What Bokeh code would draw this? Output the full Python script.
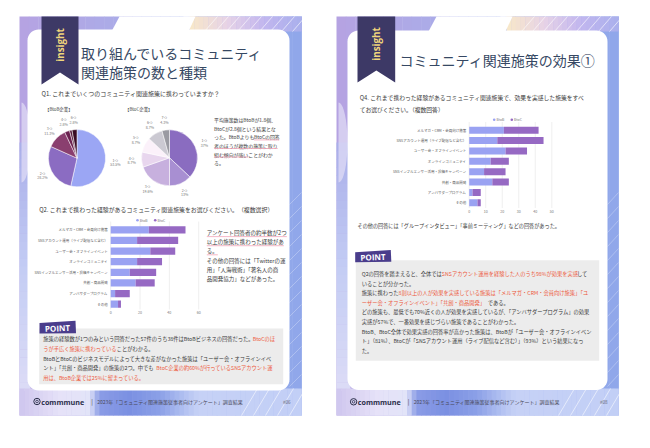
import numpy as np
from bokeh.plotting import figure
from bokeh.models import Range1d, LinearScale, ColumnDataSource
from bokeh.core.properties import value
from bokeh.embed import file_html
from bokeh.resources import INLINE

# ---------------- data ----------------
pie_b_labels = ["1つ", "2つ", "3つ", "4つ", "5つ", "6つ"]
pie_b_share = [53.5, 28.2, 11.3, 2.8, 1.4, 2.8]
pie_b_show = [True, True, True, True, False, True]
pie_c_labels = ["1つ", "2つ", "3つ", "4つ", "5つ", "6つ", "7つ"]
pie_c_share = [37.0, 13.0, 19.6, 8.7, 8.7, 8.7, 4.3]

categories = ["メルマガ・CRM・会員向け施策", "SNSアカウント運用（ライブ配信など含む）",
              "ユーザー会・オフラインイベント", "オンラインコミュニティ",
              "SNSインフルエンサー活用・投稿キャンペーン", "共創・商品開発",
              "アンバサダープログラム", "その他"]
q2_btob = [26, 18, 27, 18, 13, 17, 3, 5]
q2_btoc = [25, 28, 17, 17, 18, 13, 10, 2]
q2_ticks = [0, 20, 40, 60]
q4_btob = [21, 17, 22, 13, 9, 14, 2, 5]
q4_btoc = [21, 28, 13, 11, 13, 10, 5, 2]
q4_ticks = [0, 10, 20, 30, 40, 50]
series_names = ["BtoB", "BtoC"]

# ---------------- styles ----------------
FONT = "Noto Sans CJK JP"
BODY = "#3a3a3a"
RED = "#ec5a3c"
NAVY = "#3d3966"
C_B = "#9aa2f2"
C_C = "#9669c3"
PIE_B_COLORS = ["#9ba6f4", "#8b6cc2", "#8a3f6f", "#6b2150", "#55173b", "#3a0b24"]
PIE_C_COLORS = ["#8a6cc0", "#a88fd2", "#c7b0de", "#e8d6ee", "#fbf1fa", "#cbc9d2", "#9a9aa2"]

OFF = 8
W, H = 634, 432
p = figure(width=W, height=H, x_range=Range1d(OFF, OFF + W), y_range=Range1d(448 - OFF - H, 448 - OFF),
           output_backend="svg", toolbar_location=None, min_border=0,
           x_axis_type=None, y_axis_type=None)
p.outline_line_color = None
p.background_fill_color = "white"
p.border_fill_color = "white"


def Y(y):
    return 448 - y


def hexrgb(c):
    c = c.lstrip("#")
    return np.array([int(c[i:i + 2], 16) for i in (0, 2, 4)], float)


def mix(c0, c1, t):
    a, b = hexrgb(c0), hexrgb(c1)
    m = a + (b - a) * t
    return "#%02x%02x%02x" % tuple(int(round(v)) for v in m)


def grad_cols(stops, n):
    cols = []
    for i in range(n):
        t = (i + 0.5) / n * (len(stops) - 1)
        k = min(int(t), len(stops) - 2)
        cols.append(mix(stops[k], stops[k + 1], t - k))
    return cols


def hgrad(x0, x1, y0, y1, stops, n=30):
    xs = np.linspace(x0, x1, n + 1)
    p.quad(left=xs[:-1], right=xs[1:] + 0.4, top=Y(y0), bottom=Y(y1), fill_color=grad_cols(stops, n),
           line_color=None)


def hgrad_pos(x0, x1, y0, y1, stops, n=60):
    # stops: list of (relative x, colour)
    xs = np.linspace(x0, x1, n + 1)
    cols = []
    for i in range(n):
        xm = (xs[i] + xs[i + 1]) / 2 - x0
        for k in range(len(stops) - 1):
            if stops[k][0] <= xm <= stops[k + 1][0] or k == len(stops) - 2:
                a, b = stops[k], stops[k + 1]
                t = min(max((xm - a[0]) / (b[0] - a[0]), 0), 1)
                cols.append(mix(a[1], b[1], t))
                break
    p.quad(left=xs[:-1], right=xs[1:] + 0.4, top=Y(y0), bottom=Y(y1), fill_color=cols, line_color=None)


def vgrad(x0, x1, y0, y1, stops, n=30):
    ys = np.linspace(y0, y1, n + 1)
    p.quad(left=x0, right=x1, top=[Y(v) for v in ys[:-1]], bottom=[Y(v) - 0.4 for v in ys[1:]],
           fill_color=grad_cols(stops, n), line_color=None)


def poly(pts, color, alpha=1.0):
    p.patch([a for a, b in pts], [Y(b) for a, b in pts], fill_color=color, line_color=None, fill_alpha=alpha)


def rrect(x0, y0, x1, y1, r, color):
    pts = []
    for cx, cy, a0 in [(x1 - r, y0 + r, -90), (x1 - r, y1 - r, 0), (x0 + r, y1 - r, 90), (x0 + r, y0 + r, 180)]:
        for a in np.linspace(a0, a0 + 90, 10):
            pts.append((cx + r * np.cos(np.radians(a)), cy + r * np.sin(np.radians(a))))
    poly(pts, color)


CW = {' ': 0.26, '.': 0.28, ',': 0.28, '%': 0.86, 'B': 0.62, 't': 0.37, 'o': 0.56, 'C': 0.6,
      'S': 0.55, 'N': 0.68, 'R': 0.6, 'M': 0.78, 'Q': 0.7, 'T': 0.55, 'w': 0.78, 'i': 0.25, 'e': 0.53, 'r': 0.36}


def twidth(s, fs):
    w = 0.0
    for ch in s:
        if ord(ch) < 128:
            w += CW.get(ch, 0.55)
        else:
            w += 1.0
    return w * fs


def txt(x, y, s, size, color=BODY, align="left", bold=False, angle=0.0, font=FONT):
    p.text(x=[x], y=[Y(y)], text=[s], text_font=value(font), text_font_size=f"{size}px",
           text_color=color, text_align=align, text_baseline="middle",
           text_font_style="bold" if bold else "normal", angle=angle)


def runs(x, y, parts, size, underline=None):
    cx = x
    for s, col in parts:
        txt(cx, y, s, size, col)
        w = twidth(s, size)
        if underline is not None and s in underline:
            p.segment(x0=cx, y0=Y(y + size * 0.62), x1=cx + w, y1=Y(y + size * 0.62),
                      line_color="#f3a4b8", line_width=0.8)
        cx += w


# ---------------- page backgrounds ----------------
def page(px0, px1, card_x0, card_x1):
    top, bot = 24, 423
    hgrad(px0, px1, top, bot, ["#b6a3e2", "#a6afea", "#8fa7ea"])
    vgrad(px0, card_x0 + 3, 150, 398, ["#a9aee9", "#c3ccf4", "#dcdcf6"])
    # soft curve on left strip
    th = np.linspace(-np.pi / 2, np.pi / 2, 20)
    poly([(px0 + 2 + 9 * np.cos(t), 150 + 40 * np.sin(t)) for t in th], "#e3def7", 0.7)
    poly([(px0 + 100, top), (px0 + 175, top), (px0 + 168, 39), (px0 + 92, 39)], "#ffffff")
    hgrad(px0 + 170, px1, top, 39, ["#f8e8c8", "#e7d3e6", "#c2b6ef", "#a9b0ec"], n=24)
    poly([(px0 + 164, top), (px0 + 176, top), (px0 + 169, 39), (px0 + 156, 39)], "#ffffff")
    xs = np.arange(px0 + 185, px1, 11)
    p.segment(x0=xs, y0=Y(39), x1=xs + 13, y1=Y(top), line_color="white", line_alpha=0.75, line_width=0.8)
    # bottom band
    hgrad_pos(px0, px1, 396, bot, [(0, "#cfc6ee"), (40, "#e6e2f8"), (70, "#e2e4f8"), (80, "#8a9ce6"),
                                   (110, "#7b90e2"), (140, "#8ba0e7"), (178, "#c6d1f6"), (282, "#c2cff6")])
    xs = np.arange(px0 + 222, px1 - 2, 12)
    p.segment(x0=xs, y0=Y(bot), x1=xs + 16, y1=Y(396), line_color="white", line_alpha=0.7, line_width=0.8)
    ys = np.arange(200, 390, 14)
    p.segment(x0=card_x1, y0=[Y(v + 12) for v in ys], x1=px1, y1=[Y(v) for v in ys],
              line_color="white", line_alpha=0.35, line_width=0.8)


page(27, 309, 35, 297)
page(344, 626, 355, 615)

rrect(35, 37, 297, 398, 11, "white")
rrect(355, 38, 615, 397.5, 11, "white")


# ---------------- ribbon ----------------
def ribbon(x0, x1, y0, y1, notch, cx, cy):
    poly([(x0, y0), (x1, y0), (x1, y1), ((x0 + x1) / 2, notch), (x0, y1)], NAVY)
    txt(cx, cy, "insight", 9.8, "#f0d67c", align="center", bold=True, angle=np.pi / 2, font="Open Sans")


ribbon(49, 86, 24, 92, 80, 67.5, 52.5)
ribbon(365, 402.7, 24, 90, 78, 384, 51.5)

# ---------------- titles ----------------
TITLE = "#364863"
txt(88.5, 60, "取り組んでいるコミュニティ", 14, TITLE)
txt(88.5, 79, "関連施策の数と種類", 14, TITLE)
txt(407, 67, "コミュニティ関連施策の効果①", 14, TITLE)

txt(49, 100.5, "Q1. これまでいくつのコミュニティ関連施策に携わっていますか？", 6.0)
txt(52.5, 116.5, "【BtoB企業】", 4.4)
txt(132.5, 116.5, "【BtoC企業】", 4.4)


# ---------------- pies ----------------
def pie(cx, cy, r, shares, labels, show, colors):
    sh = np.array(shares) / sum(shares)
    cum = np.concatenate([[0], np.cumsum(sh)])
    start = np.pi / 2 - cum[1:] * 2 * np.pi
    end = np.pi / 2 - cum[:-1] * 2 * np.pi
    src = ColumnDataSource(dict(start=start, end=end, color=colors[:len(sh)]))
    p.wedge(x=cx, y=Y(cy), radius=r, start_angle="start", end_angle="end", fill_color="color",
            line_color="white", line_width=0.5, source=src)
    mid = (cum[:-1] + cum[1:]) / 2 * 2 * np.pi
    rl = r + 10
    for i in range(len(sh)):
        if not show[i]:
            continue
        lx = cx + rl * np.sin(mid[i])
        ly = cy - rl * np.cos(mid[i])
        pct = f"{shares[i]:g}%"
        txt(lx, ly - 2.3, labels[i], 3.6, "#777777", align="center")
        txt(lx, ly + 2.3, pct, 3.6, "#777777", align="center")


pie(84.5, 165.7, 28.6, pie_b_share, pie_b_labels, pie_b_show, PIE_B_COLORS)
pie(177, 165.3, 28, pie_c_share, pie_c_labels, [True] * 7, PIE_C_COLORS)

ul1 = {"BtoCの回答", "者のほうが複数の施策に取り", "組む傾向が強い"}
side1 = [[("平均施策数はBtoBが1.8個、", BODY)],
         [("BtoCが2.8個という結果とな", BODY)],
         [("った。BtoBよりも", BODY), ("BtoCの回答", BODY)],
         [("者のほうが複数の施策に取り", BODY)],
         [("組む傾向が強い", BODY), ("ことがわか", BODY)],
         [("る。", BODY)]]
for i, parts in enumerate(side1):
    runs(221.5, 127.3 + i * 8.55, parts, 4.9, ul1)

txt(46.7, 216.7, "Q2. これまで携わった経験があるコミュニティ関連施策をお選びください。（複数選択）", 5.9)

ul2 = {"アンケート回答者の約半数が2つ", "以上の施策に携わった経験があ", "る。"}
side2 = [[("アンケート回答者の約半数が2つ", BODY)],
         [("以上の施策に携わった経験があ", BODY)],
         [("る。", BODY)],
         [("その他の回答には「Twitterの運", BODY)],
         [("用」「人海戦術」「著名人の商", BODY)],
         [("品開発協力」などがあった。", BODY)]]
for i, parts in enumerate(side2):
    runs(214.3, 240.7 + i * 9.1, parts, 5.5, ul2 if i < 3 else None)


# ---------------- bar charts ----------------
def bar_chart(btob, btoc, xmax, ticks, x0, x1, ytop, ybot, ylab, legx, legy):
    n = len(categories)
    sub = p.subplot(x_source=Range1d(0, xmax), x_target=Range1d(x0, x1),
                    y_source=Range1d(n - 0.5, -0.5), y_target=Range1d(Y(ybot), Y(ytop)),
                    x_scale=LinearScale(), y_scale=LinearScale())
    ax = p.subplot(x_source=Range1d(0, xmax), x_target=Range1d(x0, x1),
                   y_source=Range1d(0, 448), y_target=Range1d(0, 448),
                   x_scale=LinearScale(), y_scale=LinearScale())
    ax.segment(x0=ticks, x1=ticks, y0=Y(ybot), y1=Y(ytop - 3), line_color="#e4e4e4", line_width=0.6)
    ax.text(x=ticks, y=Y(ylab), text=[str(t) for t in ticks], text_font=value(FONT), text_font_size="3.6px",
            text_color="#777777", text_align="center", text_baseline="middle")
    tot = [a + b for a, b in zip(btob, btoc)]
    src = ColumnDataSource(dict(idx=list(range(n)), cat=categories, b=btob, c=btoc, tot=tot))
    sub.hbar(y="idx", left=0, right="b", height=0.68, fill_color=C_B, line_color=None, source=src)
    sub.hbar(y="idx", left="b", right="tot", height=0.68, fill_color=C_C, line_color=None, source=src)
    sub.text(x=0, y="idx", text="cat", x_offset=-3, text_font=value(FONT), text_font_size="3.5px",
             text_color="#555555", text_align="right", text_baseline="middle", source=src)
    for k, (nm, col) in enumerate(zip(series_names, [C_B, C_C])):
        lx = legx[k]
        p.scatter(x=[lx], y=[Y(legy)], marker="circle", size=2.6, fill_color=col, line_color=None)
        txt(lx + 2.2, legy, nm, 3.5, "#777777")


bar_chart(q2_btob, q2_btoc, 60, q2_ticks, 118.2, 206.2, 232, 317, 319.5, [145, 162.7], 227.7)
bar_chart(q4_btob, q4_btoc, 50, q4_ticks, 476.7, 559.3, 132.5, 215.5, 218.5, [501.7, 519.3], 127.3)

txt(367.3, 105, "Q4. これまで携わった経験があるコミュニティ関連施策で、効果を実感した施策をすべ", 5.8)
txt(367.3, 117.3, "てお選びください。（複数回答）", 5.8)
txt(365, 233.3, "その他の回答には「グループインタビュー」「事前ミーティング」などの回答があった。", 5.15)


# ---------------- POINT boxes ----------------
def point_box(bx0, by0, bx1, by1, tx0, ty0, tx1, ty1, lines, lx, ly0, step):
    p.quad(left=bx0, right=bx1, top=Y(by0), bottom=Y(by1), fill_color="#ececec", line_color=None)
    poly([(tx0, ty0 + 1.5), (tx1, ty0 - 0.8), (tx1 + 0.5, ty1), (tx0, ty1 + 0.4)], "#4a3d8c")
    txt((tx0 + tx1) / 2, (ty0 + ty1) / 2 + 0.5, "POINT", 8, "white", align="center", bold=True,
        angle=0.04, font="Open Sans")
    for i, parts in enumerate(lines):
        runs(lx, ly0 + i * step, parts, 5.25)


lines_left = [
    [("施策の経験数が1つのみという回答だった57件のうち38件はBtoBビジネスの回答だった。", BODY), ("BtoCのほ", RED)],
    [("うが手広く施策に携わっている", RED), ("ことがわかる。", BODY)],
    [("BtoBとBtoCのビジネスモデルによって大きな差がなかった施策は「ユーザー会・オフラインイベ", BODY)],
    [("ント」「共創・商品開発」の施策の2つ。中でも", BODY), ("BtoC企業の約60%が行っているSNSアカウント運", RED)],
    [("用は、BtoB企業では25%に留まっている。", RED)],
]
point_box(46.7, 336, 290.7, 391.7, 47, 329, 83, 340.7, lines_left, 50.7, 346.7, 9.65)

lines_right = [
    [("Q2の回答を踏まえると、全体では", BODY), ("SNSアカウント運用を経験した人のうち98%が効果を実感", RED), ("して", BODY)],
    [("いることが分かった。", BODY)],
    [("施策に携わった", BODY), ("8割以上の人が効果を実感している施策は「メルマガ・CRM・会員向け施策」「ユ", RED)],
    [("ーザー会・オフラインイベント」「共創・商品開発」", RED), ("である。", BODY)],
    [("どの施策も、最低でも70%近くの人が効果を実感しているが、「アンバサダープログラム」の効果", BODY)],
    [("実感が57%で、一番効果を感じづらい施策であることがわかった。", BODY)],
    [("BtoB、BtoC全体で効果実感の回答率が高かった施策は、BtoBが「ユーザー会・オフラインイベン", BODY)],
    [("ト」（81%）、BtoCが「SNSアカウント運用（ライブ配信など含む）」（93%）という結果になっ", BODY)],
    [("た。", BODY)],
]
point_box(363.3, 267.7, 606.7, 368.3, 362.7, 258.3, 398.3, 269.3, lines_right, 369.3, 281.7, 9.55)


# ---------------- footers ----------------
def footer(x0, y, num, numx):
    p.scatter(x=[x0 + 2.8], y=[Y(y)], marker="circle", size=6.4, fill_color=None, line_color="#2b2f4a",
              line_width=1.0)
    p.scatter(x=[x0 + 2.8], y=[Y(y)], marker="circle", size=2.6, fill_color=None, line_color="#2b2f4a",
              line_width=0.8)
    txt(x0 + 7.0, y, "commmune", 7.2, "#2b2f4a", bold=True, font="Open Sans")
    txt(x0 + 57, y, "|", 6, "#444444")
    txt(x0 + 63, y, "2023年「コミュニティ関連施策従事者向けアンケート」調査結果", 5.0, "#4a4a5a")
    txt(numx, y, num, 4.6, "#666677")


footer(41.7, 409, "#06", 290.5)
footer(358.3, 409.3, "#08", 607.5)

open("out.html", "w").write(file_html(p, INLINE))
